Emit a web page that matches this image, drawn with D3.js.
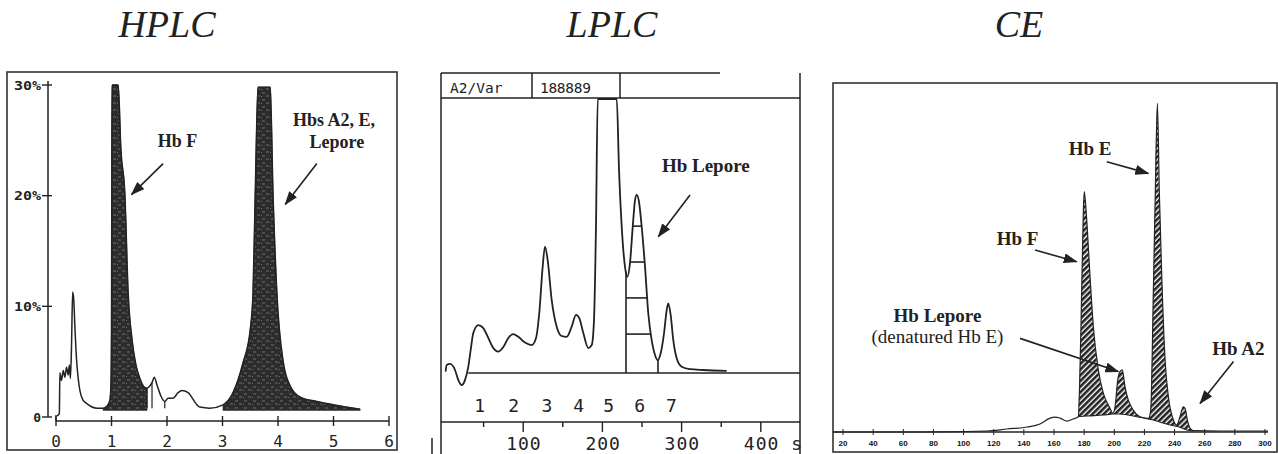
<!DOCTYPE html>
<html><head><meta charset="utf-8">
<script src="https://cdn.jsdelivr.net/npm/d3@7"></script>
<style>
html,body{margin:0;padding:0;background:#fff;}
svg{display:block;}
</style></head>
<body>
<svg id="c" width="1278" height="454"></svg>
<script>
// ================= DATA =================
const panelTitles = ["HPLC", "LPLC", "CE"];

// --- HPLC: retention time (min) vs % of total ---
const hplcTime = [0.02,0.06,0.07,0.10,0.13,0.16,0.19,0.22,0.24,0.26,0.28,0.30,0.32,0.34,0.37,0.40,0.43,0.49,0.56,0.65,0.74,0.85,0.92,0.97,0.99,1.00,1.005,1.01,1.12,1.17,1.24,1.30,1.37,1.44,1.51,1.59,1.64,1.69,1.73,1.77,1.82,1.89,1.96,2.02,2.11,2.20,2.27,2.38,2.54,2.59,2.77,3.01,3.19,3.37,3.50,3.55,3.59,3.64,3.86,3.91,3.98,4.09,4.22,4.40,4.70,5.12,5.48];
const hplcPct  = [0.1,0.3,4.0,3.3,4.2,3.6,4.5,3.8,4.7,3.5,6.5,11.3,10.6,8.2,5.2,3.5,2.4,1.5,1.2,0.9,0.8,0.8,1.0,1.5,2.9,7.8,19.6,30,30,24.1,20.2,11.2,7.0,4.7,3.5,2.7,2.6,2.8,3.1,3.6,2.9,1.9,1.4,1.7,1.7,2.2,2.4,2.2,1.1,0.9,0.8,1.1,2.2,4.9,7.9,11.2,20.2,29.8,29.8,20.2,11.2,5.1,2.8,1.8,1.4,1.0,0.7];
const hplcFillRanges = [[0.85, 1.64], [3.01, 5.48]];
const hplcFillBase = 0.6;
const hplcDropTimes = [1.64, 1.73, 1.96];
const hplcXTicks = [0, 1, 2, 3, 4, 5, 6];
const hplcYTicks = [0, 10, 20, 30];
const hplcYTickLabels = ["0", "10%", "20%", "30%"];
const hplcLabels = [
  {text: "Hb F", t: 2.19, v: 24.4},
  {text: "Hbs A2, E,", t: 5.01, v: 26.3},
  {text: "Lepore", t: 5.06, v: 24.3}
];
const hplcArrows = [
  {from: [1.93, 22.9], to: [1.36, 20.1]},
  {from: [4.70, 22.9], to: [4.13, 19.2]}
];

// --- LPLC: time (s) vs signal (% full scale) ---
const lplcTime = [2.0,3.4,7.6,13.9,18.1,22.3,26.5,30.7,33.7,37.0,43.3,49.6,55.9,62.2,68.6,74.9,81.2,87.5,93.8,102.3,110.7,116.2,120.3,124.6,127.5,130.9,136.0,142.3,148.6,154.9,161.2,166.7,170.8,175.9,182.2,186.5,189.4,191.9,194.1,218.1,221.0,224.4,228.5,231.4,234.8,238.3,241.2,243.3,246.2,249.6,253.8,257.9,262.2,266.4,269.8,273.6,277.8,281.2,283.2,286.2,289.5,293.8,300.1,310.6,327.4,356.9];
const lplcSignal = [0.5,2.9,3.3,1.1,-2.6,-4.4,-2.6,2.3,8.4,14.6,17.5,16.4,12.8,9.1,7.8,9.5,12.8,14.2,13.2,11.1,10.2,12.8,21.9,38.8,46.1,41.2,26.6,16.9,13.5,13.2,16.9,21.2,20.0,14.6,9.1,10.2,19.3,53.4,100,100,74.1,53.4,38.8,35.1,40.0,53.4,63.1,65.0,62.5,53.4,38.8,21.8,12.0,6.6,4.7,7.2,14.5,23.0,25.4,21.2,12.0,5.4,2.3,1.4,1.1,0.8];
const lplcPeakNumbers = ["1", "2", "3", "4", "5", "6", "7"];
const lplcPeakTimes = [45, 88, 130, 170, 208, 247, 287];
const lplcBandEdges = [229.8, 270.2];
const lplcBandLevels = [14.2, 27.4, 40.5, 53.6];
const lplcXTicks = [100, 200, 300, 400];
const lplcXTickLabels = ["100", "200", "300", "400 s"];
const lplcMinorTicks = [50, 150, 250, 350];
const lplcHeader = ["A2/Var", "188889"];
const lplcLabels = [{text: "Hb Lepore", t: 330.6, v: 73.5}];
const lplcArrows = [{from: [310.6, 65.0], to: [270.6, 49.7]}];

// --- CE: migration position vs signal ---
const ceTime = [13.4,71.1,115.6,128.8,142.1,150.7,157.4,160.7,164.0,168.6,172.6,176.1,177.9,179.5,180.1,181.7,183.9,186.1,189.4,192.7,197.2,199.0,200.5,202.3,203.8,205.3,207.1,209.3,212.6,217.1,222.6,224.2,225.9,227.2,228.6,229.9,231.5,233.7,235.9,239.2,241.4,243.6,245.8,247.0,248.5,250.3,252.5,270.2,302.0];
const ceSignal = [0,0,0.3,0.9,1.5,2.4,4.2,4.5,4.2,3.3,3.9,4.6,31.7,66.9,72.4,63.9,46.8,31.7,18.7,11.7,7.1,5.6,7.6,15.7,18.2,18.7,13.6,9.6,6.6,4.6,4.1,6.6,41.8,71.9,99.0,71.9,46.8,21.7,10.6,3.6,2.1,4.6,7.6,7.1,3.6,1.1,0.4,0.3,0.3];
const ceHumpTime = [176.1,181.7,192.7,199.3,203.8,214.9,225.9,237.0,242.5,248.1,252.5];
const ceHumpSignal = [4.6,4.8,5.1,5.4,5.4,4.6,3.6,2.1,1.6,0.6,0.3];
const ceXTicks = [20,40,60,80,100,120,140,160,180,200,220,240,260,280,300];
const ceLabels = [
  {text: "Hb E", t: 183.9, v: 83.4, bold: true},
  {text: "Hb F", t: 135.8, v: 56.3, bold: true},
  {text: "Hb Lepore", t: 82.7, v: 33.2, bold: true},
  {text: "(denatured Hb E)", t: 82.7, v: 26.8, bold: false},
  {text: "Hb A2", t: 282.3, v: 23.2, bold: true}
];
const ceArrows = [
  {from: [195.0, 81.4], to: [222.6, 77.9]},
  {from: [147.4, 54.8], to: [175.1, 51.3]},
  {from: [137.5, 28.2], to: [202.7, 18.2]},
  {from: [279.1, 21.2], to: [256.9, 8.6]}
];

// ================= DRAWING =================
const ink = "#222";
const serif = "'Liberation Serif','Times New Roman',serif";
const mono = "'DejaVu Sans Mono','Liberation Mono',monospace";
const svg = d3.select("#c");
const defs = svg.append("defs");

defs.append("marker").attr("id", "ah").attr("viewBox", "0 0 14 10")
  .attr("refX", 13).attr("refY", 5).attr("markerWidth", 14).attr("markerHeight", 10)
  .attr("markerUnits", "userSpaceOnUse").attr("orient", "auto")
  .append("path").attr("d", "M0,0L14,5L0,10Z").attr("fill", ink);

const st = defs.append("pattern").attr("id", "stipple").attr("patternUnits", "userSpaceOnUse")
  .attr("width", 9).attr("height", 7);
st.append("rect").attr("width", 9).attr("height", 7).attr("fill", "#2c2c2c");
st.append("path").attr("d", "M1,2h3M5,5h3M0,5.5h1").attr("stroke", "#808080").attr("stroke-width", 0.8);

const ht = defs.append("pattern").attr("id", "hatch").attr("patternUnits", "userSpaceOnUse")
  .attr("width", 4).attr("height", 4).attr("patternTransform", "rotate(45)");
ht.append("rect").attr("width", 4).attr("height", 4).attr("fill", "#fff");
ht.append("line").attr("x1", 1.3).attr("y1", 0).attr("x2", 1.3).attr("y2", 4)
  .attr("stroke", "#222").attr("stroke-width", 2.6);

// Titles
const titleX = [167, 612, 1019];
svg.selectAll("text.title").data(panelTitles).join("text").attr("class", "title")
  .attr("x", (d, i) => titleX[i]).attr("y", 37)
  .attr("text-anchor", "middle").attr("font-family", serif).attr("font-style", "italic")
  .attr("font-size", 38).attr("fill", ink).text(d => d);

function drawLabels(g, labels, x, y, size, boldDefault) {
  g.selectAll("text.lbl").data(labels).join("text").attr("class", "lbl")
    .attr("x", d => x(d.t)).attr("y", d => y(d.v))
    .attr("text-anchor", "middle").attr("font-family", serif)
    .attr("font-weight", d => (d.bold === undefined ? boldDefault : d.bold) ? "bold" : "normal")
    .attr("font-size", size).attr("fill", ink).text(d => d.text);
}
function drawArrows(g, arrows, x, y) {
  g.selectAll("line.arr").data(arrows).join("line").attr("class", "arr")
    .attr("x1", d => x(d.from[0])).attr("y1", d => y(d.from[1]))
    .attr("x2", d => x(d.to[0])).attr("y2", d => y(d.to[1]))
    .attr("stroke", ink).attr("stroke-width", 1.6).attr("marker-end", "url(#ah)");
}
function interp(pts, t) {
  for (let i = 0; i < pts.length - 1; i++) {
    const a = pts[i], b = pts[i + 1];
    if (t >= a[0] && t <= b[0] && b[0] !== a[0]) return a[1] + (b[1] - a[1]) * (t - a[0]) / (b[0] - a[0]);
  }
  return 0;
}

// ---------- HPLC ----------
{
  const g = svg.append("g");
  const x = d3.scaleLinear().domain([0, 6]).range([56, 389]);
  const y = d3.scaleLinear().domain([0, 30]).range([417, 85]);
  const pts = hplcTime.map((t, i) => [t, hplcPct[i]]);
  const curve = d3.curveMonotoneX;
  const line = d3.line().x(d => x(d[0])).y(d => y(d[1])).curve(curve);
  const area = d3.area().x(d => x(d[0])).y1(d => y(d[1])).y0(y(hplcFillBase)).curve(curve);

  g.append("rect").attr("x", 7).attr("y", 72).attr("width", 390).attr("height", 378)
    .attr("fill", "none").attr("stroke", "#333").attr("stroke-width", 1.6);

  hplcFillRanges.forEach(r => {
    g.append("path").attr("d", area(pts.filter(p => p[0] >= r[0] && p[0] <= r[1])))
      .attr("fill", "url(#stipple)").attr("stroke", "#2c2c2c").attr("stroke-width", 0.8);
  });
  g.selectAll("line.drop").data(hplcDropTimes).join("line").attr("class", "drop")
    .attr("x1", d => x(d)).attr("x2", d => x(d))
    .attr("y1", d => y(interp(pts, d))).attr("y2", y(0.8))
    .attr("stroke", ink).attr("stroke-width", 1.2);
  g.append("path").attr("d", line(pts)).attr("fill", "none").attr("stroke", ink).attr("stroke-width", 1.5);

  // y axis
  g.append("line").attr("x1", 48).attr("x2", 48).attr("y1", y(30) - 4).attr("y2", y(0))
    .attr("stroke", ink).attr("stroke-width", 1.5);
  g.selectAll("line.yt").data(hplcYTicks).join("line").attr("class", "yt")
    .attr("x1", 42).attr("x2", 52).attr("y1", d => y(d)).attr("y2", d => y(d))
    .attr("stroke", ink).attr("stroke-width", 1.4);
  g.selectAll("text.yl").data(hplcYTicks).join("text").attr("class", "yl")
    .attr("x", 41).attr("y", d => y(d) + 4.5).attr("text-anchor", "end")
    .attr("font-family", mono).attr("font-size", 13).attr("font-weight", "bold").attr("fill", ink)
    .each(function(d, i) {
      const s = d3.select(this).text(hplcYTickLabels[i]);
      if (hplcYTickLabels[i].length > 1) s.attr("textLength", 27).attr("lengthAdjust", "spacingAndGlyphs");
    });
  // x axis
  const axY = 421;
  g.append("line").attr("x1", x(0)).attr("x2", x(6)).attr("y1", axY).attr("y2", axY)
    .attr("stroke", ink).attr("stroke-width", 1.5);
  g.append("line").attr("x1", x(0)).attr("x2", x(0)).attr("y1", y(0) - 2).attr("y2", axY)
    .attr("stroke", ink).attr("stroke-width", 1.4);
  g.selectAll("line.xt").data(hplcXTicks).join("line").attr("class", "xt")
    .attr("x1", d => x(d)).attr("x2", d => x(d)).attr("y1", axY - 5).attr("y2", axY + 5)
    .attr("stroke", ink).attr("stroke-width", 1.4);
  g.selectAll("text.xl").data(hplcXTicks).join("text").attr("class", "xl")
    .attr("x", d => x(d)).attr("y", 447).attr("text-anchor", "middle")
    .attr("font-family", mono).attr("font-size", 16).attr("fill", ink).text(d => d);

  drawLabels(g, hplcLabels, x, y, 18, true);
  drawArrows(g, hplcArrows, x, y);
}

// ---------- LPLC ----------
{
  const g = svg.append("g");
  const x = d3.scaleLinear().domain([0, 450]).range([444, 800.4]);
  const y = d3.scaleLinear().domain([0, 100]).range([373, 99]);
  const pts = lplcTime.map((t, i) => [t, lplcSignal[i]]);
  const line = d3.line().x(d => x(d[0])).y(d => y(d[1])).curve(d3.curveMonotoneX);
  const L = 441, R = 800;

  defs.append("clipPath").attr("id", "lclip").append("rect")
    .attr("x", L).attr("y", 98).attr("width", R - L).attr("height", 300);

  // frame / header
  const seg = (x1, y1, x2, y2, w) => g.append("line").attr("x1", x1).attr("y1", y1).attr("x2", x2).attr("y2", y2)
    .attr("stroke", ink).attr("stroke-width", w || 1.5);
  seg(L, 73, 720, 73); seg(L, 98, R, 98); seg(L, 73, L, 454); seg(R, 73, R, 454);
  seg(532, 73, 532, 98); seg(620, 73, 620, 98);
  seg(L, 422, R, 422); seg(432, 438, 432, 454);
  g.append("text").attr("x", 450).attr("y", 93).attr("font-family", mono).attr("font-size", 14.5)
    .attr("fill", ink).text(lplcHeader[0]);
  g.append("text").attr("x", 540).attr("y", 93).attr("font-family", mono).attr("font-size", 14.5)
    .attr("fill", ink).attr("letter-spacing", -0.3).text(lplcHeader[1]);

  // baseline
  seg(x(30.7), y(0), R, y(0), 1.6);
  // peak 6 bands
  lplcBandEdges.forEach(s => seg(x(s), y(interp(pts, s)), x(s), y(0), 1.6));
  const p6 = pts.filter(p => p[0] >= lplcBandEdges[0] && p[0] <= lplcBandEdges[1]);
  let imax = 0; p6.forEach((p, i) => { if (p[1] > p6[imax][1]) imax = i; });
  lplcBandLevels.forEach(lv => {
    let left = lplcBandEdges[0], right = lplcBandEdges[1];
    for (let i = 0; i < imax; i++) {
      const a = p6[i], b = p6[i + 1];
      if (a[1] <= lv && b[1] >= lv) left = Math.max(left, a[0] + (lv - a[1]) * (b[0] - a[0]) / (b[1] - a[1]));
    }
    for (let i = imax; i < p6.length - 1; i++) {
      const a = p6[i], b = p6[i + 1];
      if (a[1] >= lv && b[1] <= lv) { right = a[0] + (lv - a[1]) * (b[0] - a[0]) / (b[1] - a[1]); break; }
    }
    seg(x(left), y(lv), x(right), y(lv), 1.6);
  });
  g.append("path").attr("d", line(pts)).attr("clip-path", "url(#lclip)")
    .attr("fill", "none").attr("stroke", ink).attr("stroke-width", 1.8);

  // peak numbers
  g.selectAll("text.pn").data(lplcPeakNumbers).join("text").attr("class", "pn")
    .attr("x", (d, i) => x(lplcPeakTimes[i])).attr("y", 412).attr("text-anchor", "middle")
    .attr("font-family", mono).attr("font-size", 18).attr("fill", ink).text(d => d);
  // time axis
  g.selectAll("line.mj").data(lplcXTicks).join("line").attr("class", "mj")
    .attr("x1", d => x(d)).attr("x2", d => x(d)).attr("y1", 422).attr("y2", 432)
    .attr("stroke", ink).attr("stroke-width", 1.4);
  g.selectAll("line.mn").data(lplcMinorTicks).join("line").attr("class", "mn")
    .attr("x1", d => x(d)).attr("x2", d => x(d)).attr("y1", 422).attr("y2", 427)
    .attr("stroke", ink).attr("stroke-width", 1.4);
  g.selectAll("text.tl").data(lplcXTicks).join("text").attr("class", "tl")
    .attr("x", d => x(d) - 17).attr("y", 450).attr("text-anchor", "start")
    .attr("font-family", mono).attr("font-size", 18).attr("letter-spacing", 1).attr("fill", ink)
    .text((d, i) => lplcXTickLabels[i]);

  drawLabels(g, lplcLabels, x, y, 19, true);
  drawArrows(g, lplcArrows, x, y);
}

// ---------- CE ----------
{
  const g = svg.append("g");
  const x = d3.scaleLinear().domain([20, 300]).range([843, 1265]);
  const y = d3.scaleLinear().domain([0, 100]).range([432, 100]);
  const pts = ceTime.map((t, i) => [t, ceSignal[i]]);
  const hump = ceHumpTime.map((t, i) => [t, ceHumpSignal[i]]);
  const line = d3.line().x(d => x(d[0])).y(d => y(d[1])).curve(d3.curveMonotoneX);
  const lineLin = d3.line().x(d => x(d[0])).y(d => y(d[1]));

  g.append("rect").attr("x", 833).attr("y", 83).attr("width", 444).attr("height", 369)
    .attr("fill", "none").attr("stroke", "#333").attr("stroke-width", 1.6);

  const t0 = ceHumpTime[0], t1 = ceHumpTime[ceHumpTime.length - 1];
  const top = pts.filter(p => p[0] >= t0 && p[0] <= t1);
  const bottom = hump.slice().reverse();
  const d = line(top) + "L" + lineLin(bottom).slice(1) + "Z";
  g.append("path").attr("d", d).attr("fill", "url(#hatch)").attr("stroke", "none");
  g.append("path").attr("d", line(hump)).attr("fill", "none").attr("stroke", ink).attr("stroke-width", 1.1);

  // axis
  g.append("line").attr("x1", 833).attr("x2", 1268).attr("y1", 432).attr("y2", 432)
    .attr("stroke", ink).attr("stroke-width", 1.3);
  g.selectAll("line.ct").data(ceXTicks).join("line").attr("class", "ct")
    .attr("x1", d => x(d)).attr("x2", d => x(d)).attr("y1", 429).attr("y2", 435)
    .attr("stroke", ink).attr("stroke-width", 1);
  g.selectAll("text.cl").data(ceXTicks).join("text").attr("class", "cl")
    .attr("x", d => x(d)).attr("y", 446).attr("text-anchor", "middle")
    .attr("font-family", "'Liberation Sans',Arial,sans-serif").attr("font-weight", "bold")
    .attr("font-size", 8).attr("fill", "#111").text(d => d);

  g.append("path").attr("d", line(pts)).attr("fill", "none").attr("stroke", ink).attr("stroke-width", 1.2);

  drawLabels(g, ceLabels, x, y, 19, true);
  drawArrows(g, ceArrows, x, y);
}
</script>
</body></html>
